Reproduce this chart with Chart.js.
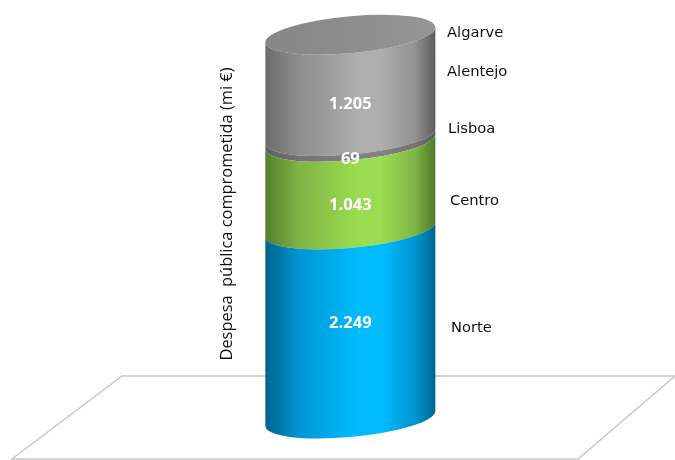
<!DOCTYPE html>
<html>
<head>
<meta charset="utf-8">
<style>
  body { margin: 0; background: #fff; }
  canvas { display: block; }
</style>
<script src="https://cdn.jsdelivr.net/npm/chart.js@4"></script>
</head>
<body>
<canvas id="chart" width="675" height="460"></canvas>
<script>
const categories = ['Despesa'];
const regions = ['Norte', 'Centro', 'Lisboa', 'Alentejo', 'Algarve'];
const values = [2249, 1043, 69, 1205, 0];
const axisMax = 4866;
const axisTitle = 'Despesa  pública comprometida (mi €)';

// cores do cilindro: borda esquerda, sombra, meio, sombra, borda direita
const shadeLeft = ['#00648c', '#557f2e', '#606060', '#6c6c6c', '#6c6c6c'];
const softLeft = ['#0096d2', '#7fb545', '#747474', '#8e8e8e', '#8e8e8e'];
const bodyMid = ['#00bcff', '#9bdc50', '#828282', '#aeaeae', '#aeaeae'];
const softRight = ['#0096d0', '#7fb545', '#747474', '#929292', '#929292'];
const shadeRight = ['#00658f', '#4f7a28', '#5e5e5e', '#5c5c5c', '#5c5c5c'];
const capLeft = '#858585';
const capRight = '#969696';

// legendas ao lado do cilindro, colocadas à mão como no original
const regionLabelPos = [[451, 328], [450, 201], [448, 129], [447, 72], [447, 33]];
const valueNudge = [-1, 20, 20, 19, 0];
const floorPoints = [[122, 376], [675, 376], [578, 459], [12, 459]];

const SHEAR = 7.5 / 85;   // inclinação da elipse
const ELLIPSE_B = 18.5;

const formatValue = v => String(v).replace(/\B(?=(\d{3})+$)/g, '.');

function halfEllipse(ctx, cx, cy, a, fromAngle, toAngle, ccw) {
    ctx.save();
    ctx.transform(1, -SHEAR, 0, 1, cx, cy);
    ctx.ellipse(0, 0, a, ELLIPSE_B, 0, fromAngle, toAngle, ccw);
    ctx.restore();
}

const cylinderPlugin = {
    id: 'cylinder',
    beforeDatasetsDraw(chart) {
        const ctx = chart.ctx;
        ctx.save();
        ctx.strokeStyle = '#c8c8c8';
        ctx.lineWidth = 1.5;
        ctx.beginPath();
        floorPoints.forEach((p, i) => i ? ctx.lineTo(p[0], p[1]) : ctx.moveTo(p[0], p[1]));
        ctx.closePath();
        ctx.stroke();
        ctx.restore();
    },
    beforeDatasetDraw(chart, args) {
        const i = args.index;
        const bar = args.meta.data[0];
        if (values[i] > 0) {
            const ctx = chart.ctx;
            const a = bar.width / 2;
            const left = bar.x - a;
            const grad = ctx.createLinearGradient(left, 0, left + bar.width, 0);
            grad.addColorStop(0, shadeLeft[i]);
            grad.addColorStop(0.2, softLeft[i]);
            grad.addColorStop(0.55, bodyMid[i]);
            grad.addColorStop(0.68, bodyMid[i]);
            grad.addColorStop(0.88, softRight[i]);
            grad.addColorStop(1, shadeRight[i]);
            ctx.save();
            ctx.fillStyle = grad;
            ctx.beginPath();
            // lado de baixo (frente da elipse), depois sobe e volta por cima
            halfEllipse(ctx, bar.x, bar.base, a, Math.PI, 0, true);
            halfEllipse(ctx, bar.x, bar.y, a, 0, Math.PI, false);
            ctx.closePath();
            ctx.fill();
            ctx.restore();
        }
        return false;
    },
    afterDatasetsDraw(chart) {
        const ctx = chart.ctx;
        const top = chart.getDatasetMeta(regions.length - 1).data[0];
        const a = top.width / 2;
        const capGrad = ctx.createLinearGradient(top.x - a, 0, top.x + a, 0);
        capGrad.addColorStop(0, capLeft);
        capGrad.addColorStop(1, capRight);
        ctx.save();
        ctx.fillStyle = capGrad;
        ctx.beginPath();
        halfEllipse(ctx, top.x, top.y, a, 0, Math.PI * 2, false);
        ctx.fill();

        ctx.textAlign = 'center';
        ctx.textBaseline = 'middle';
        ctx.fillStyle = '#fff';
        ctx.font = 'bold 16.5px "Open Sans"';
        values.forEach((v, i) => {
            if (!v) return;
            const bar = chart.getDatasetMeta(i).data[0];
            ctx.fillText(formatValue(v), bar.x, (bar.y + bar.base) / 2 + valueNudge[i]);
        });

        ctx.textAlign = 'left';
        ctx.fillStyle = '#111';
        ctx.font = '14.7px "DejaVu Sans"';
        regions.forEach((r, i) => ctx.fillText(r, regionLabelPos[i][0], regionLabelPos[i][1]));
        ctx.restore();
    }
};

new Chart(document.getElementById('chart'), {
    type: 'bar',
    data: {
        labels: categories,
        datasets: regions.map((r, i) => ({ label: r, data: [values[i]] }))
    },
    options: {
        responsive: false,
        animation: false,
        events: [],
        layout: { padding: { left: 217, right: 219, top: 9.5, bottom: 41.5 } },
        barThickness: 170,
        scales: {
            x: { stacked: true, display: false },
            y: {
                stacked: true,
                min: 0,
                max: axisMax,
                grid: { display: false },
                border: { display: false },
                ticks: { display: false },
                title: {
                    display: true,
                    text: axisTitle,
                    color: '#111',
                    font: { family: 'Open Sans', size: 16.4 },
                    padding: { top: 0, bottom: 0 }
                }
            }
        },
        plugins: { legend: { display: false }, tooltip: { enabled: false } }
    },
    plugins: [cylinderPlugin]
});
</script>
</body>
</html>
